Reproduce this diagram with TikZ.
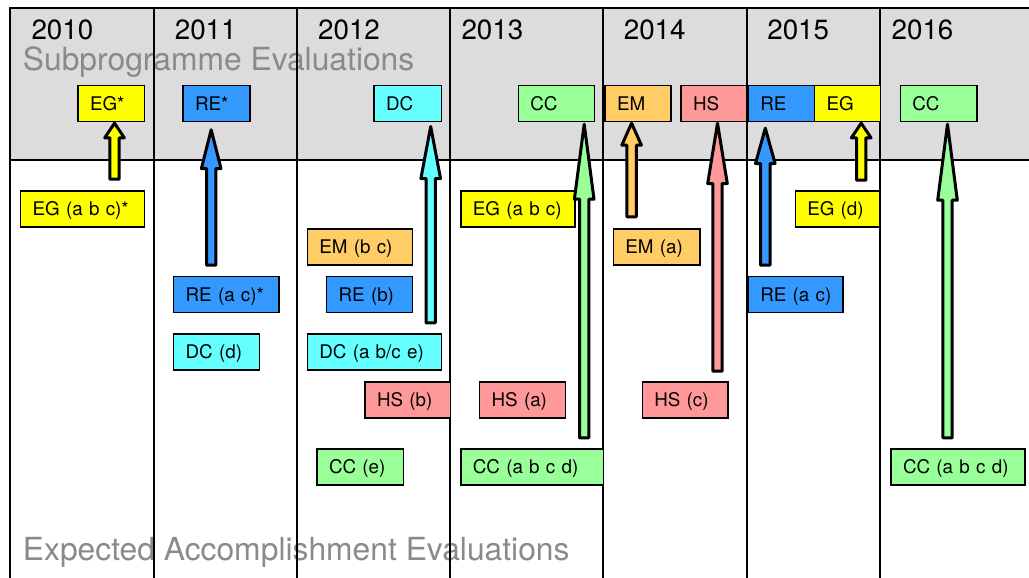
\documentclass[tikz,border=0pt]{standalone}
\usepackage{fontspec}
\setmainfont{TeX Gyre Heros}
\usetikzlibrary{calc}

\definecolor{hdrgray}{HTML}{DCDCDC}
\definecolor{titlegray}{HTML}{8A8A8A}
\definecolor{egc}{HTML}{FFFF00}
\definecolor{rec}{HTML}{3399FF}
\definecolor{dcc}{HTML}{66FFFF}
\definecolor{ccc}{HTML}{99FF99}
\definecolor{emc}{HTML}{FFCC66}
\definecolor{hsc}{HTML}{FF9999}

\tikzset{
  evalbox/.style={draw=black, line width=1.5pt, minimum height=36pt,
    inner xsep=12pt, inner ysep=0pt, text height=13.5pt, text depth=0pt,
    align=left, anchor=north west, font=\fontsize{18.8}{20}\selectfont},
  yearlabel/.style={anchor=base west, inner sep=0pt, font=\fontsize{27.8}{30}\selectfont},
  bandtitle/.style={anchor=base west, inner sep=0pt, text=titlegray,
    font=\fontsize{31.8}{34}\selectfont},
  gridline/.style={line width=1.6pt},
  blockarrow/.style={draw=black, line width=3pt, line join=round},
}

% evaluation box: name, left, top, width, colour, label
\newcommand\evalbox[6]{%
  \pgfmathsetmacro\boxtw{#4-24}%
  \node[evalbox, fill=#5, minimum width=#4pt, text width=\boxtw pt] (#1) at (#2,#3) {\mbox{#6}};}

% thick outlined upward block arrow: start, tip, head length, colour
\newcommand\uparrowblock[4]{%
  \path[blockarrow, fill=#4] let \p1=(#1), \p2=(#2) in
    (\x1-4.7pt,\y1) -- (\x1-4.7pt,\y2-#3pt) -- (\x1-9.8pt,\y2-#3pt) -- (\x1,\y2)
    -- (\x1+9.8pt,\y2-#3pt) -- (\x1+4.7pt,\y2-#3pt) -- (\x1+4.7pt,\y1) -- cycle;}

\begin{document}
\begin{tikzpicture}[x=1pt,y=-1pt]
\useasboundingbox (0,0) rectangle (1029,578);

% header band
\fill[hdrgray] (10,8) rectangle (1029,160);

% band titles
\node[bandtitle] (subtitle) at (22.7,71) {Subprogramme Evaluations};
\node[bandtitle] (eatitle) at (22.7,560) {Expected Accomplishment Evaluations};

% years
\node[yearlabel] (y2010) at (31.3,39.3) {2010};
\node[yearlabel] (y2011) at (174.6,39.3) {2011};
\node[yearlabel] (y2012) at (317.9,39.3) {2012};
\node[yearlabel] (y2013) at (461.3,39.3) {2013};
\node[yearlabel] (y2014) at (623.6,39.3) {2014};
\node[yearlabel] (y2015) at (767.1,39.3) {2015};
\node[yearlabel] (y2016) at (891.4,39.3) {2016};

% grid
\draw[line width=2.2pt] (9,8) -- (1029,8);
\draw[gridline] (10,160) -- (1029,160);
\foreach \gx in {10,154,297,450,603,747}
  \draw[gridline] (\gx,8) -- (\gx,578);
\draw[line width=1.1pt] (880,8) -- (880,578);

% subprogramme evaluations
\evalbox{sEG10}{77.3}{84.7}{66.6}{egc}{EG*}
\evalbox{sRE11}{182.3}{84.7}{66.9}{rec}{RE*}
\evalbox{sDC12}{373.3}{84.7}{67.3}{dcc}{DC}
\evalbox{sCC13}{517.6}{84.7}{76.3}{ccc}{CC}
\evalbox{sEM14}{604.4}{84.7}{65.8}{emc}{EM}
\evalbox{sHS14}{680.3}{84.7}{65.8}{hsc}{HS}
\evalbox{sRE15}{747.5}{84.7}{66.3}{rec}{RE}
\evalbox{sEG15}{813.8}{84.7}{65.8}{egc}{EG}
\evalbox{sCC16}{899.6}{84.7}{76.7}{ccc}{CC}

% expected accomplishment evaluations
\evalbox{eEG10}{19.9}{190}{124}{egc}{EG (a b c)*}
\evalbox{eEG13}{460.1}{190}{113.9}{egc}{EG (a b c)}
\evalbox{eEG15}{794.5}{190}{84.9}{egc}{EG (d)}
\evalbox{eEM12}{306.6}{228}{105.3}{emc}{EM (b c)}
\evalbox{eEM14}{612.6}{228}{86.5}{emc}{EM (a)}
\evalbox{eRE11}{172.9}{275.7}{105.3}{rec}{RE (a c)*}
\evalbox{eRE12}{325.9}{275.7}{86}{rec}{RE (b)}
\evalbox{eRE15}{747.5}{275.7}{94.7}{rec}{RE (a c)}
\evalbox{eDC11}{172.9}{333.4}{86}{dcc}{DC (d)}
\evalbox{eDC12}{306.6}{333.4}{134}{dcc}{DC (a b/c e)}
\evalbox{eHS12}{364.3}{381.2}{85.3}{hsc}{HS (b)}
\evalbox{eHS13}{478.9}{381.2}{85.7}{hsc}{HS (a)}
\evalbox{eHS14}{641.6}{381.2}{85.7}{hsc}{HS (c)}
\evalbox{eCC12}{316.3}{448.2}{86.3}{ccc}{CC (e)}
\evalbox{eCC13}{460.1}{448.2}{142.5}{ccc}{CC (a b c d)}
\evalbox{eCC16}{890.3}{448.2}{133.8}{ccc}{CC (a b c d)}

% arrow ends
\coordinate (aEG10s) at (114.5,179.2); \coordinate (aEG10e) at (114.5,123.2);
\coordinate (aRE11s) at (211.2,265.2); \coordinate (aRE11e) at (211.2,129.8);
\coordinate (aDC12s) at (430.7,322.8); \coordinate (aDC12e) at (430.7,126.5);
\coordinate (aCC13s) at (584.2,437.8); \coordinate (aCC13e) at (584.2,124.2);
\coordinate (aEM14s) at (631.6,216.8); \coordinate (aEM14e) at (631.6,123.2);
\coordinate (aHS14s) at (717.5,371.2); \coordinate (aHS14e) at (717.5,123.2);
\coordinate (aRE15s) at (765.3,265.2); \coordinate (aRE15e) at (765.3,128.2);
\coordinate (aEG15s) at (861.2,180.2); \coordinate (aEG15e) at (861.2,123.2);
\coordinate (aCC16s) at (947.5,437.8); \coordinate (aCC16e) at (947.5,124.2);

% arrows
\uparrowblock{aEG10s}{aEG10e}{14.6}{egc}
\uparrowblock{aRE11s}{aRE11e}{38.7}{rec}
\uparrowblock{aDC12s}{aDC12e}{52}{dcc}
\uparrowblock{aCC13s}{aCC13e}{75}{ccc}
\uparrowblock{aEM14s}{aEM14e}{22}{emc}
\uparrowblock{aHS14s}{aHS14e}{60.3}{hsc}
\uparrowblock{aRE15s}{aRE15e}{35.3}{rec}
\uparrowblock{aEG15s}{aEG15e}{14.6}{egc}
\uparrowblock{aCC16s}{aCC16e}{76}{ccc}
\end{tikzpicture}
\end{document}
